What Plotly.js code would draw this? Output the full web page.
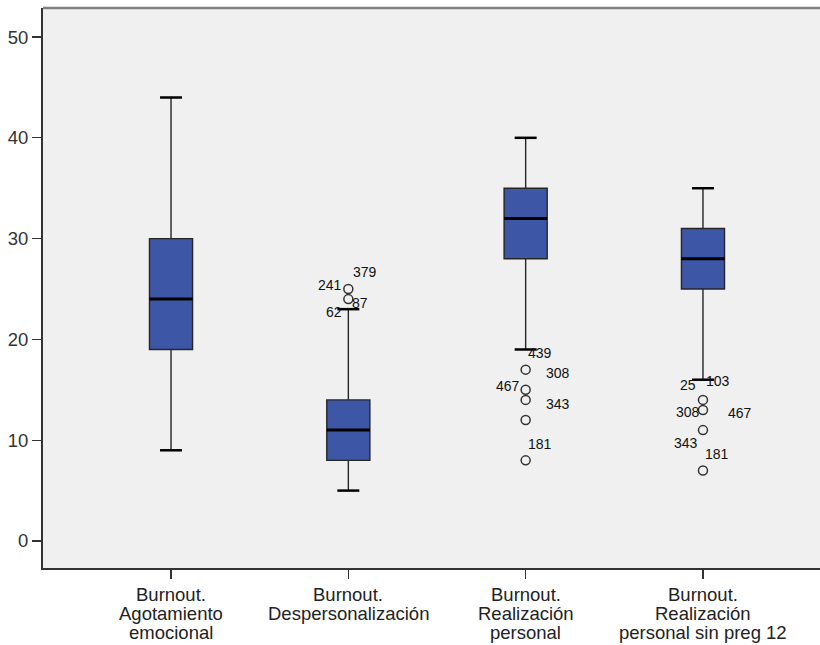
<!DOCTYPE html>
<html>
<head>
<meta charset="utf-8">
<script src="https://cdn.plot.ly/plotly-3.0.1.min.js"></script>
<style>html,body{margin:0;padding:0;background:#fff;}#chart{width:820px;height:645px;}</style>
</head>
<body>
<div id="chart"></div>
<script>
// ---- data ----
var categories = [
  "Burnout.<br>Agotamiento<br>emocional",
  "Burnout.<br>Despersonalización",
  "Burnout.<br>Realización<br>personal",
  "Burnout.<br>Realización<br>personal sin preg 12"
];
var lowerWhisker = [9, 5, 19, 16];
var q1Values     = [19, 8, 28, 25];
var medianValues = [24, 11, 32, 28];
var q3Values     = [30, 14, 35, 31];
var upperWhisker = [44, 23, 40, 35];
var yTicks = [0, 10, 20, 30, 40, 50];

// outliers: category index, value
var outlierCat   = [1, 1, 2, 2, 2, 2, 2, 3, 3, 3, 3];
var outlierValue = [25, 24, 17, 15, 14, 12, 8, 14, 13, 11, 7];

// outlier case labels: category index, value, case id
var labelCat   = [1, 1, 1, 1, 2, 2, 2, 2, 2, 3, 3, 3, 3, 3, 3];
var labelValue = [25, 25, 24, 24, 17, 15, 15, 14, 8, 14, 14, 13, 13, 11, 7];
var labelText  = ["241", "379", "87", "62", "439", "467", "308", "343", "181", "25", "103", "308", "467", "343", "181"];
// label pixel offsets (style)
var labelDX = [-18, 17, 12, -14, 14, -18, 32, 32, 14, -15, 15, -15, 37, -17, 14];
var labelDY = [4, 17, -4, -13, 17, 4, 17, -4, 16, 15, 19, -2, -3, -13, 16];

// ---- styling ----
var FONT = 'Liberation Sans, Arial, sans-serif';
var BOX_W = 0.243, CAP_W = 0.124;
var xs = categories.map(function(_, i){ return i; });

var boxTrace = {
  type: 'box',
  x: xs,
  q1: q1Values, median: medianValues, q3: q3Values,
  lowerfence: lowerWhisker, upperfence: upperWhisker,
  width: BOX_W,
  whiskerwidth: 0,
  boxpoints: false,
  fillcolor: '#3D56A6',
  line: {color: '#262626', width: 1.4},
  hoverinfo: 'skip',
  showlegend: false
};

function segs(values, half){
  var x = [], y = [];
  values.forEach(function(v, i){ x.push(i - half, i + half, null); y.push(v, v, null); });
  return {x: x, y: y};
}
var med = segs(medianValues, BOX_W / 2);
var medianTrace = {type: 'scatter', mode: 'lines', x: med.x, y: med.y,
  line: {color: '#000', width: 3}, hoverinfo: 'skip', showlegend: false};
var capsLo = segs(lowerWhisker, CAP_W / 2), capsHi = segs(upperWhisker, CAP_W / 2);
var capTrace = {type: 'scatter', mode: 'lines',
  x: capsLo.x.concat(capsHi.x), y: capsLo.y.concat(capsHi.y),
  line: {color: '#000', width: 2.5}, hoverinfo: 'skip', showlegend: false};

var outlierTrace = {type: 'scatter', mode: 'markers', x: outlierCat, y: outlierValue,
  marker: {symbol: 'circle-open', size: 9, color: '#333', line: {width: 1.5, color: '#333'}},
  hoverinfo: 'skip', showlegend: false};

var annotations = labelText.map(function(t, i){
  return {x: labelCat[i], y: labelValue[i], xref: 'x', yref: 'y', text: t,
    showarrow: false, xshift: labelDX[i], yshift: labelDY[i],
    font: {family: FONT, size: 14, color: '#111'}};
});

// category labels, one annotation per line for tight line spacing
categories.forEach(function(c, i){
  c.split('<br>').forEach(function(line, j){
    annotations.push({x: i, y: 0, xref: 'x', yref: 'paper', text: line,
      showarrow: false, xanchor: 'center', yanchor: 'middle',
      yshift: -26.5 - 19.2 * j,
      font: {family: FONT, size: 18.5, color: '#222'}});
  });
});

var layout = {
  width: 820, height: 645,
  margin: {l: 43, r: 0, t: 8, b: 77},
  paper_bgcolor: '#ffffff',
  plot_bgcolor: '#F0F0F0',
  font: {family: FONT, size: 14, color: '#222'},
  showlegend: false,
  xaxis: {
    range: [-0.722, 3.66],
    tickvals: xs, ticktext: categories, showticklabels: false,
    ticks: 'outside', ticklen: 9, tickwidth: 1.2, tickcolor: '#333',
    showline: true, linecolor: '#333', linewidth: 2,
    showgrid: false, zeroline: false
  },
  yaxis: {
    range: [-2.68, 52.88],
    tickvals: yTicks,
    ticks: 'outside', ticklen: 9, tickwidth: 1.2, tickcolor: '#333',
    showline: true, linecolor: '#333', linewidth: 2,
    showgrid: false, zeroline: false,
    tickfont: {family: FONT, size: 18.5, color: '#333'}
  },
  shapes: [{type: 'line', xref: 'paper', yref: 'paper', x0: 0, x1: 1, y0: 1, y1: 1,
    line: {color: '#808080', width: 2.5}}],
  annotations: annotations
};

Plotly.newPlot('chart', [boxTrace, medianTrace, capTrace, outlierTrace], layout,
  {displayModeBar: false, staticPlot: true});
</script>
</body>
</html>
